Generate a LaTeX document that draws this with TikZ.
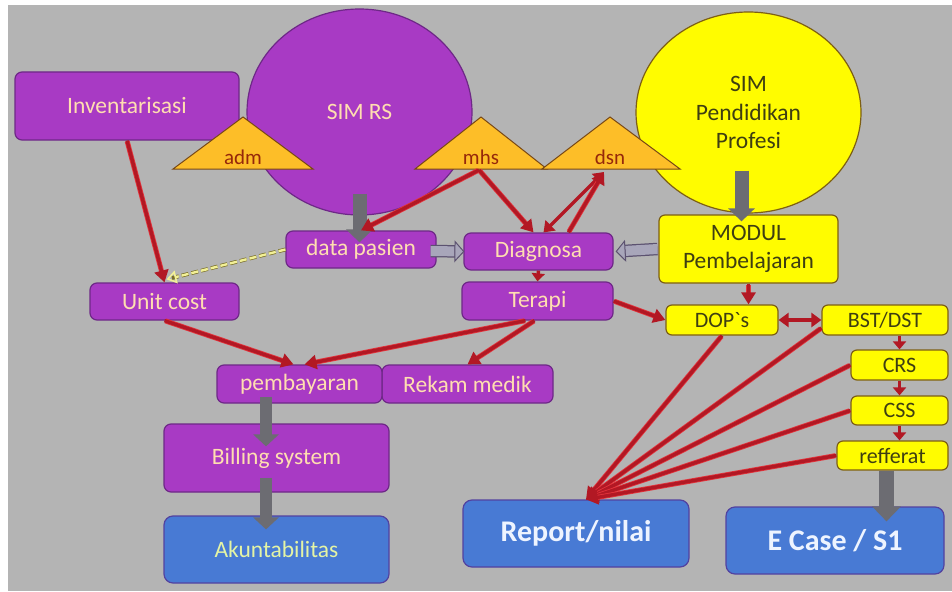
\documentclass[tikz,border=0pt]{standalone}
\usepackage{fontspec}
\setmainfont{Carlito}
\usetikzlibrary{arrows.meta,shapes.geometric,calc}

\definecolor{canvas}{RGB}{180,180,180}
\definecolor{purp}{RGB}{168,58,196}
\definecolor{purpline}{RGB}{110,40,135}
\definecolor{peach}{RGB}{255,222,176}
\definecolor{bluebox}{RGB}{72,122,212}
\definecolor{blueline}{RGB}{82,66,160}
\definecolor{akuntext}{RGB}{228,244,165}
\definecolor{reporttext}{RGB}{238,244,255}
\definecolor{yel}{RGB}{255,252,0}
\definecolor{yelline}{RGB}{125,95,20}
\definecolor{yeltext}{RGB}{62,62,18}
\definecolor{orng}{RGB}{253,190,40}
\definecolor{orngline}{RGB}{120,72,22}
\definecolor{tritext}{RGB}{150,40,10}
\definecolor{arrowred}{RGB}{178,24,36}
\definecolor{arrowglow}{RGB}{228,52,60}
\definecolor{blockgray}{RGB}{108,108,114}
\definecolor{softgray}{RGB}{168,166,186}
\definecolor{softline}{RGB}{92,82,112}
\definecolor{dashyel}{RGB}{242,240,150}
\definecolor{dashline}{RGB}{120,110,40}

\begin{document}
\begin{tikzpicture}[x=1pt,y=-1pt,
  mainfont/.style={font=\fontsize{23.5}{28.5}\selectfont},
  box/.style={mainfont, draw=purpline, fill=purp, line width=1.2pt,
    rounded corners=7pt, text=peach, inner sep=0pt, align=center},
  bluebox/.style={draw=blueline, fill=bluebox, line width=1.2pt,
    rounded corners=9pt, inner sep=0pt, align=center},
  yelbox/.style={mainfont, draw=yelline, fill=yel, line width=1.2pt,
    rounded corners=6pt, text=yeltext, inner sep=0pt, align=center},
  smallyel/.style={yelbox, font=\fontsize{22}{26}\selectfont},
  blob/.style={ellipse, inner sep=0pt, line width=1.2pt, align=center, mainfont},
  tri/.style={fill=orng, draw=orngline, line width=1pt, line join=miter},
  trilabel/.style={font=\fontsize{21}{24}\selectfont, text=tritext, inner sep=0pt},
  glow/.style={preaction={draw=arrowglow, line width=5pt, -, shorten >=9pt, shorten <=1pt}},
  redarrow/.style={glow, draw=arrowred, line width=3.4pt,
    -{Triangle[width=14pt,length=12pt]}},
  redshort/.style={draw=arrowred, line width=3.4pt,
    -{Triangle[width=13pt,length=8pt]}},
  redboth/.style={draw=arrowred, line width=3.4pt,
    {Triangle[width=14pt,length=10pt]}-{Triangle[width=14pt,length=10pt]}},
  blockarrow/.style={draw=blockgray, line width=14pt,
    -{Triangle[width=26pt,length=13pt]}},
  softarrow/.style={draw=softgray, line width=10pt,
    -{Triangle[width=22pt,length=10pt,fill=softgray,color=softline,line width=1pt]},
    preaction={draw=softline, line width=12.5pt, -, shorten >=9pt}},
  dasharrow/.style={draw=dashyel, line width=2.4pt, dash pattern=on 7pt off 3pt,
    -{Triangle[open,width=13pt,length=10pt,line width=1.6pt]},
    preaction={draw=dashline, line width=3.8pt, dash pattern=on 7pt off 3pt,
      -, shorten >=3pt}}
]
% canvas
\useasboundingbox (0,0) rectangle (952,591);
\fill[white] (0,0) rectangle (952,591);
\fill[canvas] (8,5) rectangle (952,591);

% the two systems
\node[blob, draw=purpline, fill=purp, text=peach,
  minimum width=225pt, minimum height=206pt] (simrs) at (359.5,112) {SIM RS};
\node[blob, draw=yelline, fill=yel, text=yeltext,
  minimum width=225pt, minimum height=201pt] (simpp) at (748.5,112.5)
  {SIM\\Pendidikan\\Profesi};

% hospital side
\node[box, minimum width=224pt, minimum height=68pt] (inv) at (127,106) {Inventarisasi};
\node[box, minimum width=149pt, minimum height=37pt] (unit) at (164.5,301.5) {Unit cost};
\node[box, minimum width=150pt, minimum height=37pt] (datap) at (361,249.5) {data pasien};
\node[box, minimum width=149pt, minimum height=37pt] (diag) at (538.5,251.5) {Diagnosa};
\node[box, minimum width=151pt, minimum height=38pt] (terapi) at (537.5,301) {Terapi};
\node[box, minimum width=171pt, minimum height=38pt] (rekam) at (467.5,384) {Rekam medik};
\node[box, minimum width=165pt, minimum height=38pt] (pemb) at (299.5,384) {pembayaran};
\node[box, minimum width=225pt, minimum height=68pt] (billing) at (276.5,458) {Billing system};
\node[bluebox, mainfont, text=akuntext, minimum width=225pt, minimum height=67pt]
  (akun) at (276.5,549.5) {Akuntabilitas};

% education side
\node[yelbox, minimum width=179pt, minimum height=68pt] (modul) at (748.5,249)
  {MODUL\\Pembelajaran};
\node[smallyel, minimum width=112pt, minimum height=30pt] (dops) at (722,320) {DOP\textasciigrave s};
\node[smallyel, minimum width=126pt, minimum height=30pt] (bst) at (885,320) {BST/DST};
\node[smallyel, minimum width=97pt, minimum height=30pt] (crs) at (899.5,365) {CRS};
\node[smallyel, minimum width=97pt, minimum height=29pt] (css) at (899.5,410.5) {CSS};
\node[smallyel, minimum width=111pt, minimum height=29pt] (reff) at (892.5,455.5) {refferat};
\node[bluebox, text=reporttext, font=\bfseries\fontsize{30}{36}\selectfont,
  minimum width=226pt, minimum height=67pt] (report) at (576,533.5) {Report/nilai};
\node[bluebox, text=reporttext, font=\bfseries\fontsize{30}{36}\selectfont,
  minimum width=218pt, minimum height=67pt] (ecase) at (835,540.5) {E Case / S1};

% user roles
\filldraw[tri] (173,169) -- (243,117) -- (313,169) -- cycle;
\filldraw[tri] (415,169) -- (481,117) -- (547,169) -- cycle;
\filldraw[tri] (542,169) -- (610,117) -- (680,169) -- cycle;
\node[trilabel] (adm) at (243,157) {adm};
\node[trilabel] (mhs) at (481,157) {mhs};
\node[trilabel] (dsn) at (610,157) {dsn};
\coordinate (mhsB) at (479,170);
\coordinate (dsnB) at (604,172);

% data flow (block arrows)
\draw[blockarrow] ([yshift=22pt]simrs.south) -- ([yshift=-12pt]simrs.south |- datap.north);
\draw[blockarrow] ([xshift=-7pt,yshift=43pt]simpp.south) -- ([xshift=-7pt,yshift=-7pt]modul.north);
\draw[blockarrow, line width=12pt, -{Triangle[width=25pt,length=12pt]}]
  ([xshift=-33.5pt,yshift=7pt]pemb.south) -- ([xshift=-10.5pt,yshift=-23pt]billing.north);
\draw[blockarrow, line width=12pt, -{Triangle[width=25pt,length=12pt]}]
  ([xshift=-10.5pt,yshift=15pt]billing.south) -- ([xshift=-10.5pt,yshift=-14pt]akun.north);
\draw[blockarrow, line width=15pt, -{Triangle[width=28pt,length=15pt]}]
  ([xshift=-6pt]reff.south) -- ([xshift=51.5pt,yshift=-15pt]ecase.north);
\draw[softarrow] ([xshift=-6pt,yshift=-1.5pt]datap.east) -- ([xshift=1pt]diag.west);
\draw[softarrow] ([xshift=-1pt]modul.west) -- ([xshift=2pt]diag.east);
\draw[dasharrow] (datap.west) -- ([xshift=2pt,yshift=3pt]unit.north);

% process links
\draw[redarrow] (inv.south) -- (unit.north);
\draw[redarrow] (mhsB) -- (datap.north);
\draw[redarrow] (mhsB) -- ([xshift=-5pt]diag.north);
\draw[redboth] (dsnB) -- ([xshift=5pt]diag.north);
\draw[redarrow] ([xshift=30pt]diag.north) -- (dsnB);
\draw[redshort] (diag.south) -- (terapi.north);
\draw[redarrow] ([xshift=-12pt]terapi.south) -- ([xshift=5pt]pemb.north);
\draw[redarrow] ([xshift=-3pt]terapi.south) -- (rekam.north);
\draw[redarrow] (unit.south) -- ([xshift=-6pt]pemb.north);
\draw[redarrow] (terapi.east) -- (dops.west);
\draw[redarrow] (modul.south) -- (modul.south |- dops.north);
\draw[redboth] (dops.east) -- (bst.west);
\draw[redshort] (crs.north |- bst.south) -- (crs.north);
\draw[redshort] (crs.south) -- (css.north);
\draw[redshort] (css.south) -- (css.south |- reff.north);

% assessment feeds into the report
\coordinate (rep) at ([xshift=10pt]report.north);
\draw[redarrow] (dops.south) -- (rep);
\draw[redarrow] ([yshift=-8pt]bst.west) -- (rep);
\draw[redarrow] (crs.west) -- (rep);
\draw[redarrow] (css.west) -- (rep);
\draw[redarrow] (reff.west) -- (rep);
\end{tikzpicture}
\end{document}
